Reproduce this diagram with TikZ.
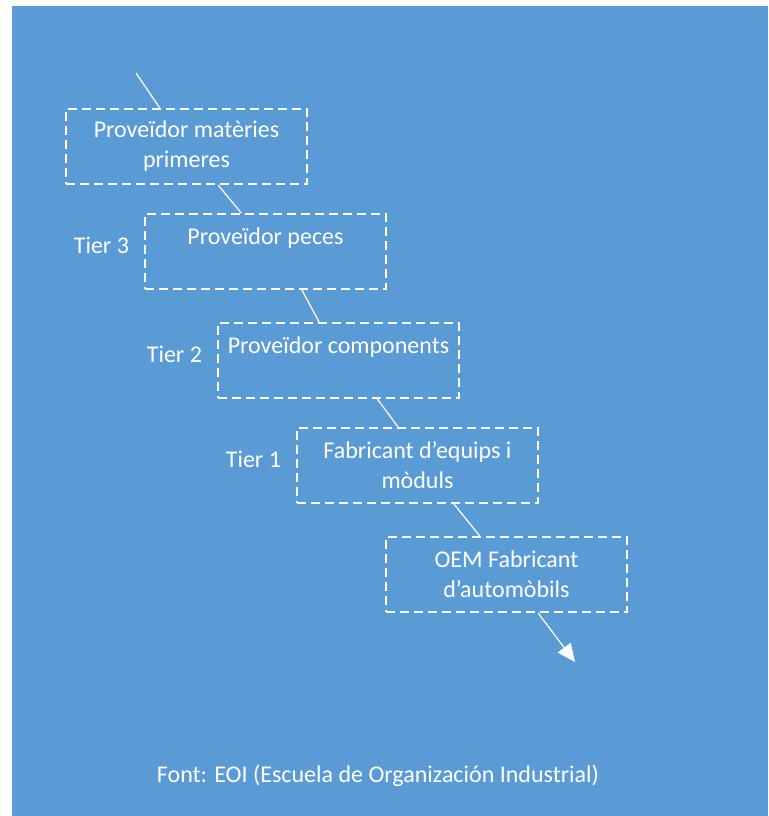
\documentclass[tikz,border=0pt]{standalone}
\usepackage{fontspec}
\setmainfont{Carlito}
\usetikzlibrary{positioning,calc,arrows.meta}
\definecolor{bgblue}{HTML}{5B9BD5}

\begin{document}
\begin{tikzpicture}[x=0.5pt, y=-0.5pt,
        box/.style={draw=white, dash pattern=on 4.5pt off 2.5pt, line width=1pt,
            minimum width=120.5pt, minimum height=37.5pt, inner sep=0pt,
            align=center, text=white, font=\fontsize{12}{15}\selectfont, anchor=north west,
            execute at begin node={\rule{0pt}{12.5pt}}},
        tier/.style={text=white, font=\fontsize{12}{14}\selectfont, left=4pt, yshift=3pt},
        link/.style={draw=white, line width=0.6pt}
    ]
        \useasboundingbox (0,0) rectangle (768,816);
        \fill[bgblue] (12,6) rectangle (768,816);

        \node[box] (mat) at (65,108) {Proveïdor matèries\\primeres};
        \node[box] (pec) at (144,213) {Proveïdor peces\\\mbox{}};
        \node[box] (comp) at (217,322) {Proveïdor components\\\mbox{}};
        \node[box] (equ) at (296,427) {Fabricant d’equips i\\mòduls};
        \node[box] (oem) at (385,536) {OEM Fabricant\\d’automòbils};

        \node[tier] (t3) at (pec.west) {Tier 3};
        \node[tier] (t2) at (comp.west) {Tier 2};
        \node[tier] (t1) at (equ.west) {Tier 1};

        \coordinate (start) at (136,73);
        \coordinate (end) at (575,662);

        \draw[link] (start) -- ($(mat.north west)!0.39!(mat.north east)$);
        \draw[link] ($(mat.south west)!0.63!(mat.south east)$) -- ($(pec.north west)!0.40!(pec.north east)$);
        \draw[link] ($(pec.south west)!0.65!(pec.south east)$) -- ($(comp.north west)!0.42!(comp.north east)$);
        \draw[link] ($(comp.south west)!0.66!(comp.south east)$) -- ($(equ.north west)!0.42!(equ.north east)$);
        \draw[link] ($(equ.south west)!0.65!(equ.south east)$) -- ($(oem.north west)!0.39!(oem.north east)$);
        \draw[link, -{Triangle[length=9pt,width=8pt]}] ($(oem.south west)!0.63!(oem.south east)$) -- (end);

        \node[text=white, font=\fontsize{12}{14}\selectfont] (src) at (378,776) {Font: EOI (Escuela de Organización Industrial)};
    \end{tikzpicture}
\end{document}
